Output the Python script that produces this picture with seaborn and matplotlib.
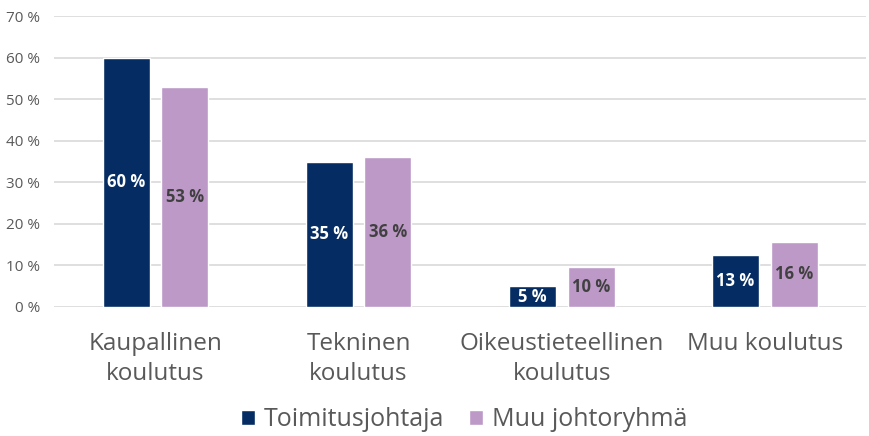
import pandas as pd
import seaborn as sns
import matplotlib.pyplot as plt

categories = ['Kaupallinen\nkoulutus', 'Tekninen\nkoulutus',
              'Oikeustieteellinen\nkoulutus', 'Muu koulutus']
series = ['Toimitusjohtaja', 'Muu johtoryhmä']
toimitusjohtaja = [60, 35, 5, 12.6]
muu_johtoryhma = [53, 36, 9.6, 15.7]
y_ticks = [0, 10, 20, 30, 40, 50, 60, 70]

df = pd.DataFrame({
    'koulutus': categories * 2,
    'ryhma': [series[0]] * 4 + [series[1]] * 4,
    'osuus': toimitusjohtaja + muu_johtoryhma,
})

sns.set_theme(style='white')
plt.rcParams['font.family'] = ['Open Sans', 'DejaVu Sans']

gray = '#595959'
colors = ['#052d63', '#bd99c7']

fig = plt.figure(figsize=(8.69, 4.36), dpi=100)
ax = fig.add_axes([0.062, 0.296, 0.935, 0.667])

sns.barplot(data=df, x='koulutus', y='osuus', hue='ryhma', palette=colors,
            saturation=1, width=0.578, gap=0.2, ax=ax, legend=True)

# value labels in the middle of each bar
text_colors = ['white', '#404040']
for cont, tc in zip(ax.containers, text_colors):
    ax.bar_label(cont, labels=[f'{v:.0f} %' for v in cont.datavalues],
                 label_type='center', color=tc, fontsize=12, fontweight='bold')

ax.set_ylim(0, 70)
ax.set_xlim(-0.5, 3.5)
ax.set_yticks(y_ticks)
ax.set_yticklabels([f'{t} %' for t in y_ticks], color=gray, fontsize=11)
ax.tick_params(axis='x', labelsize=17.5, colors=gray, pad=12)
ax.tick_params(axis='y', pad=10, length=0)
for lbl in ax.get_xticklabels():
    lbl.set_linespacing(1.35)
ax.yaxis.grid(True, color='#d9d9d9', linewidth=1.2)
ax.set_axisbelow(True)
ax.set_xlabel('')
ax.set_ylabel('')
for s in ax.spines.values():
    s.set_visible(False)

ax.legend(loc='lower center', bbox_to_anchor=(0.505, -0.465), ncol=2, frameon=False,
          fontsize=18, handlelength=0.55, handleheight=0.55, handletextpad=0.35,
          columnspacing=1.0, labelcolor=gray, borderaxespad=0)

fig.savefig('out.png', dpi=100)
